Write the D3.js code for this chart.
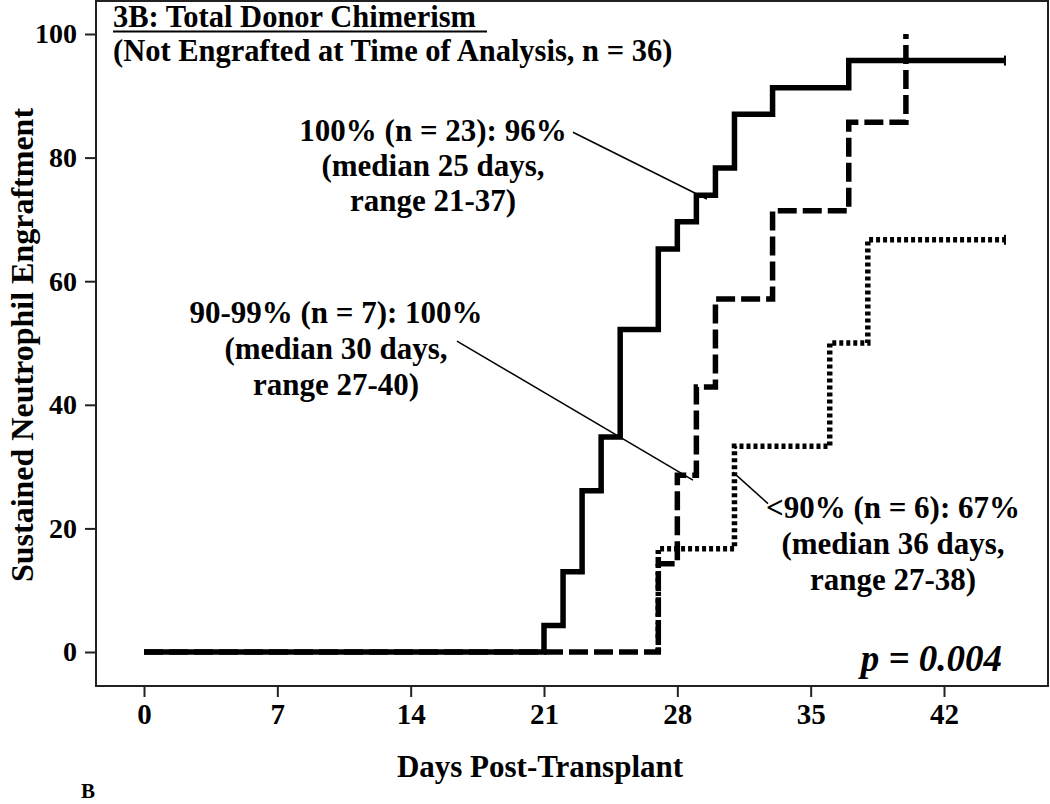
<!DOCTYPE html>
<html>
<head>
<meta charset="utf-8">
<script src="https://cdn.jsdelivr.net/npm/d3@7"></script>
<style>
  html, body { margin: 0; padding: 0; background: #fff; }
  svg { display: block; }
  text { font-family: "Liberation Serif", "Times New Roman", serif; font-weight: bold; fill: #000; }
</style>
</head>
<body>
<svg id="chart" width="1050" height="804"></svg>
<script>
// ---------------- data ----------------
const xTicks = [0, 7, 14, 21, 28, 35, 42];
const yTicks = [0, 20, 40, 60, 80, 100];

// 100% chimerism (n = 23) – solid
const solidStart = 0;
const solidDays = [21, 22, 23, 24, 25, 27, 28, 29, 30, 31, 33, 37];
const solidValues = [4.3, 13.0, 26.1, 34.8, 52.2, 65.2, 69.6, 73.9, 78.3, 87.0, 91.3, 95.7];
const solidCensor = 45.2;

// 90-99% chimerism (n = 7) – dashed
const dashStart = 0;
const dashDays = [27, 28, 29, 30, 33, 37, 40];
const dashValues = [14.3, 28.6, 42.9, 57.1, 71.4, 85.7, 100];
const dashCensor = null;

// <90% chimerism (n = 6) – dotted
const dotStart = 27;
const dotDays = [27, 31, 36, 38];
const dotValues = [16.7, 33.3, 50.0, 66.7];
const dotCensor = 45.2;

const titleLines = ["3B: Total Donor Chimerism ", "(Not Engrafted at Time of Analysis, n = 36)"];
const labelSolid = ["100% (n = 23): 96%", "(median 25 days,", "range 21-37)"];
const labelDash = ["90-99% (n = 7): 100%", "(median 30 days,", "range 27-40)"];
const labelDot = ["<90% (n = 6): 67%", "(median 36 days,", "range 27-38)"];
// ---------------------------------------

const svg = d3.select("#chart");
const frame = { left: 96, top: 1, right: 1048, bottom: 686 };

const x = d3.scaleLinear().domain([0, 42]).range([144, 944]);
const y = d3.scaleLinear().domain([0, 100]).range([652, 34]);

// frame
svg.append("rect")
  .attr("x", frame.left).attr("y", frame.top)
  .attr("width", frame.right - frame.left).attr("height", frame.bottom - frame.top)
  .attr("fill", "none").attr("stroke", "#222").attr("stroke-width", 2);

// axes
const xAxis = d3.axisBottom(x).tickValues(xTicks).tickSize(11).tickSizeOuter(0).tickPadding(6);
const gx = svg.append("g").attr("transform", `translate(0,${frame.bottom})`).call(xAxis);
gx.select(".domain").remove();
gx.selectAll(".tick line").attr("stroke", "#222").attr("stroke-width", 2);
gx.selectAll(".tick text").attr("font-size", 29).style("font-family", '"Liberation Serif", serif').style("font-weight", "bold");

const yAxis = d3.axisLeft(y).tickValues(yTicks).tickSize(11).tickSizeOuter(0).tickPadding(8);
const gy = svg.append("g").attr("transform", `translate(${frame.left},0)`).call(yAxis);
gy.select(".domain").remove();
gy.selectAll(".tick line").attr("stroke", "#222").attr("stroke-width", 2);
gy.selectAll(".tick text").attr("font-size", 28).style("font-family", '"Liberation Serif", serif').style("font-weight", "bold");

// axis titles
svg.append("text").attr("x", 540).attr("y", 777).attr("text-anchor", "middle")
  .attr("font-size", 31).text("Days Post-Transplant");
svg.append("text").attr("transform", "translate(33,345) rotate(-90)").attr("text-anchor", "middle")
  .attr("font-size", 32).text("Sustained Neutrophil Engraftment");
svg.append("text").attr("x", 81).attr("y", 798).attr("font-size", 21).text("B");

// step paths
function stepPath(start, days, values, end) {
  const p = d3.path();
  p.moveTo(x(start), y(0));
  days.forEach((d, i) => {
    p.lineTo(x(d), i === 0 ? y(0) : y(values[i - 1]));
    p.lineTo(x(d), y(values[i]));
  });
  if (end != null) p.lineTo(x(end), y(values[values.length - 1]));
  return p.toString();
}

const curves = svg.append("g").attr("fill", "none").attr("stroke", "#000")
  .attr("stroke-width", 5.5).attr("stroke-linejoin", "miter").attr("stroke-linecap", "butt");

curves.append("path").attr("d", stepPath(dotStart, dotDays, dotValues, dotCensor))
  .attr("stroke-dasharray", "4,3");
curves.append("path").attr("d", stepPath(dashStart, dashDays, dashValues, dashCensor))
  .attr("stroke-dasharray", "19,6");
curves.append("path").attr("d", stepPath(solidStart, solidDays, solidValues, solidCensor));

// censor marks
[[solidCensor, solidValues[solidValues.length - 1]], [dotCensor, dotValues[dotValues.length - 1]]]
  .forEach(([d, v]) => {
    svg.append("line").attr("x1", x(d)).attr("x2", x(d))
      .attr("y1", y(v) - 5).attr("y2", y(v) + 5)
      .attr("stroke", "#000").attr("stroke-width", 2);
  });

// title
svg.append("text").attr("x", 113).attr("y", 27).attr("font-size", 30.5).text(titleLines[0]);
svg.append("line").attr("x1", 113).attr("x2", 487).attr("y1", 31.5).attr("y2", 31.5)
  .attr("stroke", "#000").attr("stroke-width", 2);
svg.append("text").attr("x", 113).attr("y", 61).attr("font-size", 30.5).text(titleLines[1]);

// annotations
function block(lines, cx, y0, dy) {
  const t = svg.append("text").attr("text-anchor", "middle").attr("font-size", 31);
  lines.forEach((s, i) => t.append("tspan").attr("x", cx).attr("y", y0 + i * dy).text(s));
}
block(labelSolid, 433, 141, 35);
block(labelDash, 336, 323, 36);
block(labelDot, 893, 518, 36);

// leaders
const leaders = [
  [[22.52, 84.1], [29.55, 73.3]],
  [[16.43, 50.3], [28.82, 27.8]],
  [[30.92, 29.1], [32.76, 24.0]]
];
leaders.forEach(([a, b]) => {
  svg.append("line").attr("x1", x(a[0])).attr("y1", y(a[1])).attr("x2", x(b[0])).attr("y2", y(b[1]))
    .attr("stroke", "#000").attr("stroke-width", 1.5);
});

// p value
svg.append("text").attr("x", 1002).attr("y", 671).attr("text-anchor", "end")
  .attr("font-size", 37).attr("font-style", "italic").text("p = 0.004");
</script>
</body>
</html>
